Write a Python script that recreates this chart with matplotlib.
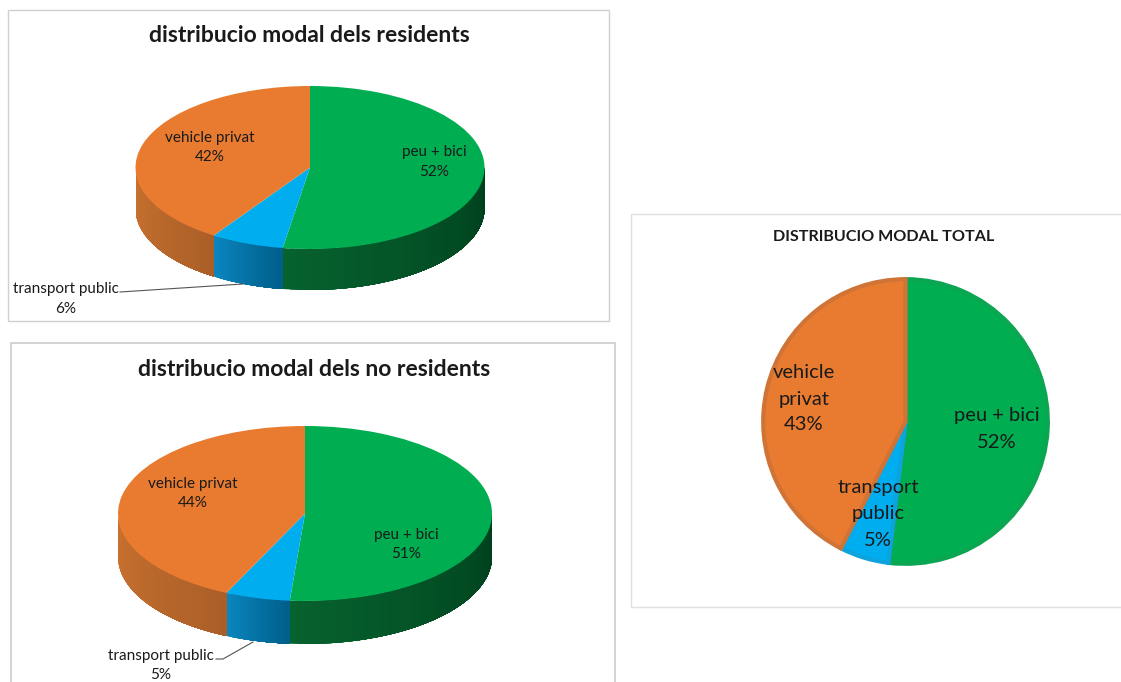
import numpy as np
import matplotlib
matplotlib.use('Agg')
import matplotlib.pyplot as plt
from matplotlib.colors import to_rgb
from matplotlib.patches import Rectangle

W, H = 1121, 682

# modes, clockwise from 12 o'clock
categories = ['peu + bici', 'transport public', 'vehicle privat']

# shares as drawn in the picture, and the percentages printed on it
residents = [52.5, 6.8, 40.7]
no_residents = [51.3, 5.6, 43.1]
total = [51.9, 5.6, 42.5]
residents_labels = ['52%', '6%', '42%']
no_residents_labels = ['51%', '5%', '44%']
total_labels = ['52%', '5%', '43%']

colors = ['#00ad50', '#00adef', '#e97b31']
edge_colors = ['#0ca552', '#0ea3dc', '#cf7436']
# side shading left -> right along the rim
side_left = ['#06622e', '#0a86bf', '#cb7330']
side_right = ['#003f1d', '#005f8b', '#ab5f28']

plt.rcParams['font.family'] = ['Lato', 'DejaVu Sans']
TXT = '#1a1a1a'

fig = plt.figure(figsize=(W / 100, H / 100), dpi=100)

# frames go behind everything
back = fig.add_axes([0, 0, 1, 1], zorder=-1)
back.set_xlim(0, W)
back.set_ylim(H, 0)
back.axis('off')
back.add_patch(Rectangle((8, 10), 601, 311, fc='white', ec='#d0d0d0', lw=1.0))
back.add_patch(Rectangle((11, 343), 604, 345, fc='white', ec='#cccccc', lw=1.2))
back.add_patch(Rectangle((631, 214), 500, 393, fc='white', ec='#e0e0e0', lw=1.0))

# text and leader lines on top, in pixels
bg = fig.add_axes([0, 0, 1, 1], zorder=3)
bg.set_xlim(0, W)
bg.set_ylim(H, 0)
bg.axis('off')


def sub_axes(x0, y0, x1, y1):
    ax = fig.add_axes([x0 / W, 1 - y1 / H, (x1 - x0) / W, (y1 - y0) / H])
    ax.patch.set_alpha(0)
    return ax


def pie3d(cx, top, rx, ry, depth, values):
    ax = sub_axes(cx - rx, top, cx + rx, top + 2 * ry + depth)
    d = depth / ry
    ax.pie(values, colors=colors, startangle=90, counterclock=False, radius=1,
           wedgeprops=dict(linewidth=0), frame=False)
    ax.set_aspect('auto')
    ax.set_xlim(-1, 1)
    ax.set_ylim(-1 - d, 1)
    ax.axis('off')

    # rim, only the front half of the disc can be seen
    edges = 90 - 3.6 * np.cumsum([0] + list(values))
    for i in range(len(values)):
        a0 = min(edges[i], 0)
        a1 = max(edges[i + 1], -180)
        if a0 <= a1:
            continue
        steps = np.linspace(a1, a0, 41)
        c0 = np.array(to_rgb(side_left[i]))
        c1 = np.array(to_rgb(side_right[i]))
        for k in range(40):
            # each strip runs to the slice end so no seams show between them
            t = np.radians(np.linspace(steps[k], a0, 60))
            x = np.cos(t)
            y = np.sin(t)
            c = c0 + (c1 - c0) * k / 39
            ax.fill(np.r_[x, x[::-1]], np.r_[y, y[::-1] - d], color=c, lw=0, zorder=0)
    return ax


pie3d(310, 86, 174.5, 81.5, 41, residents)
pie3d(305, 426, 187, 87.5, 43, no_residents)

ax3 = sub_axes(761, 277, 1050, 566)
wedges, _ = ax3.pie(total, colors=colors, startangle=90, counterclock=False, radius=0.985,
                    wedgeprops=dict(linewidth=3), frame=False)
for w, ec in zip(wedges, edge_colors):
    w.set_edgecolor(ec)
ax3.set_xlim(-1, 1)
ax3.set_ylim(-1, 1)
ax3.axis('off')


def label(x, y, s, size, **kw):
    bg.text(x, y, s, fontsize=size, ha='center', va='center', color=TXT, **kw)


# titles
label(309, 36, 'distribucio modal dels residents', 16.5, fontweight='bold')
label(314, 369, 'distribucio modal dels no residents', 16.5, fontweight='bold')
label(884, 237, 'DISTRIBUCIO MODAL TOTAL', 11.6, fontweight='bold')

# data labels, residents
label(434, 152, categories[0], 11)
label(434, 172, residents_labels[0], 11)
label(210, 138, categories[2], 11)
label(210, 157, residents_labels[2], 11)
label(66, 289, categories[1], 11)
label(66, 309, residents_labels[1], 11)
bg.plot([120, 243], [292, 284], color='#555555', lw=0.8)

# data labels, no residents
label(406, 535, categories[0], 11)
label(406, 554, no_residents_labels[0], 11)
label(193, 484, categories[2], 11)
label(193, 503, no_residents_labels[2], 11)
label(161, 656, categories[1], 11)
label(161, 675, no_residents_labels[1], 11)
bg.plot([216, 223, 253], [659, 659, 642], color='#555555', lw=0.8)

# data labels, total
label(997, 415, categories[0], 14.5)
label(997, 442, total_labels[0], 14.5)
label(804, 373, 'vehicle', 14.5)
label(804, 399, 'privat', 14.5)
label(804, 425, total_labels[2], 14.5)
label(878, 488, 'transport', 14.5)
label(878, 514, 'public', 14.5)
label(878, 540, total_labels[1], 14.5)

fig.savefig('out.png', dpi=100)
